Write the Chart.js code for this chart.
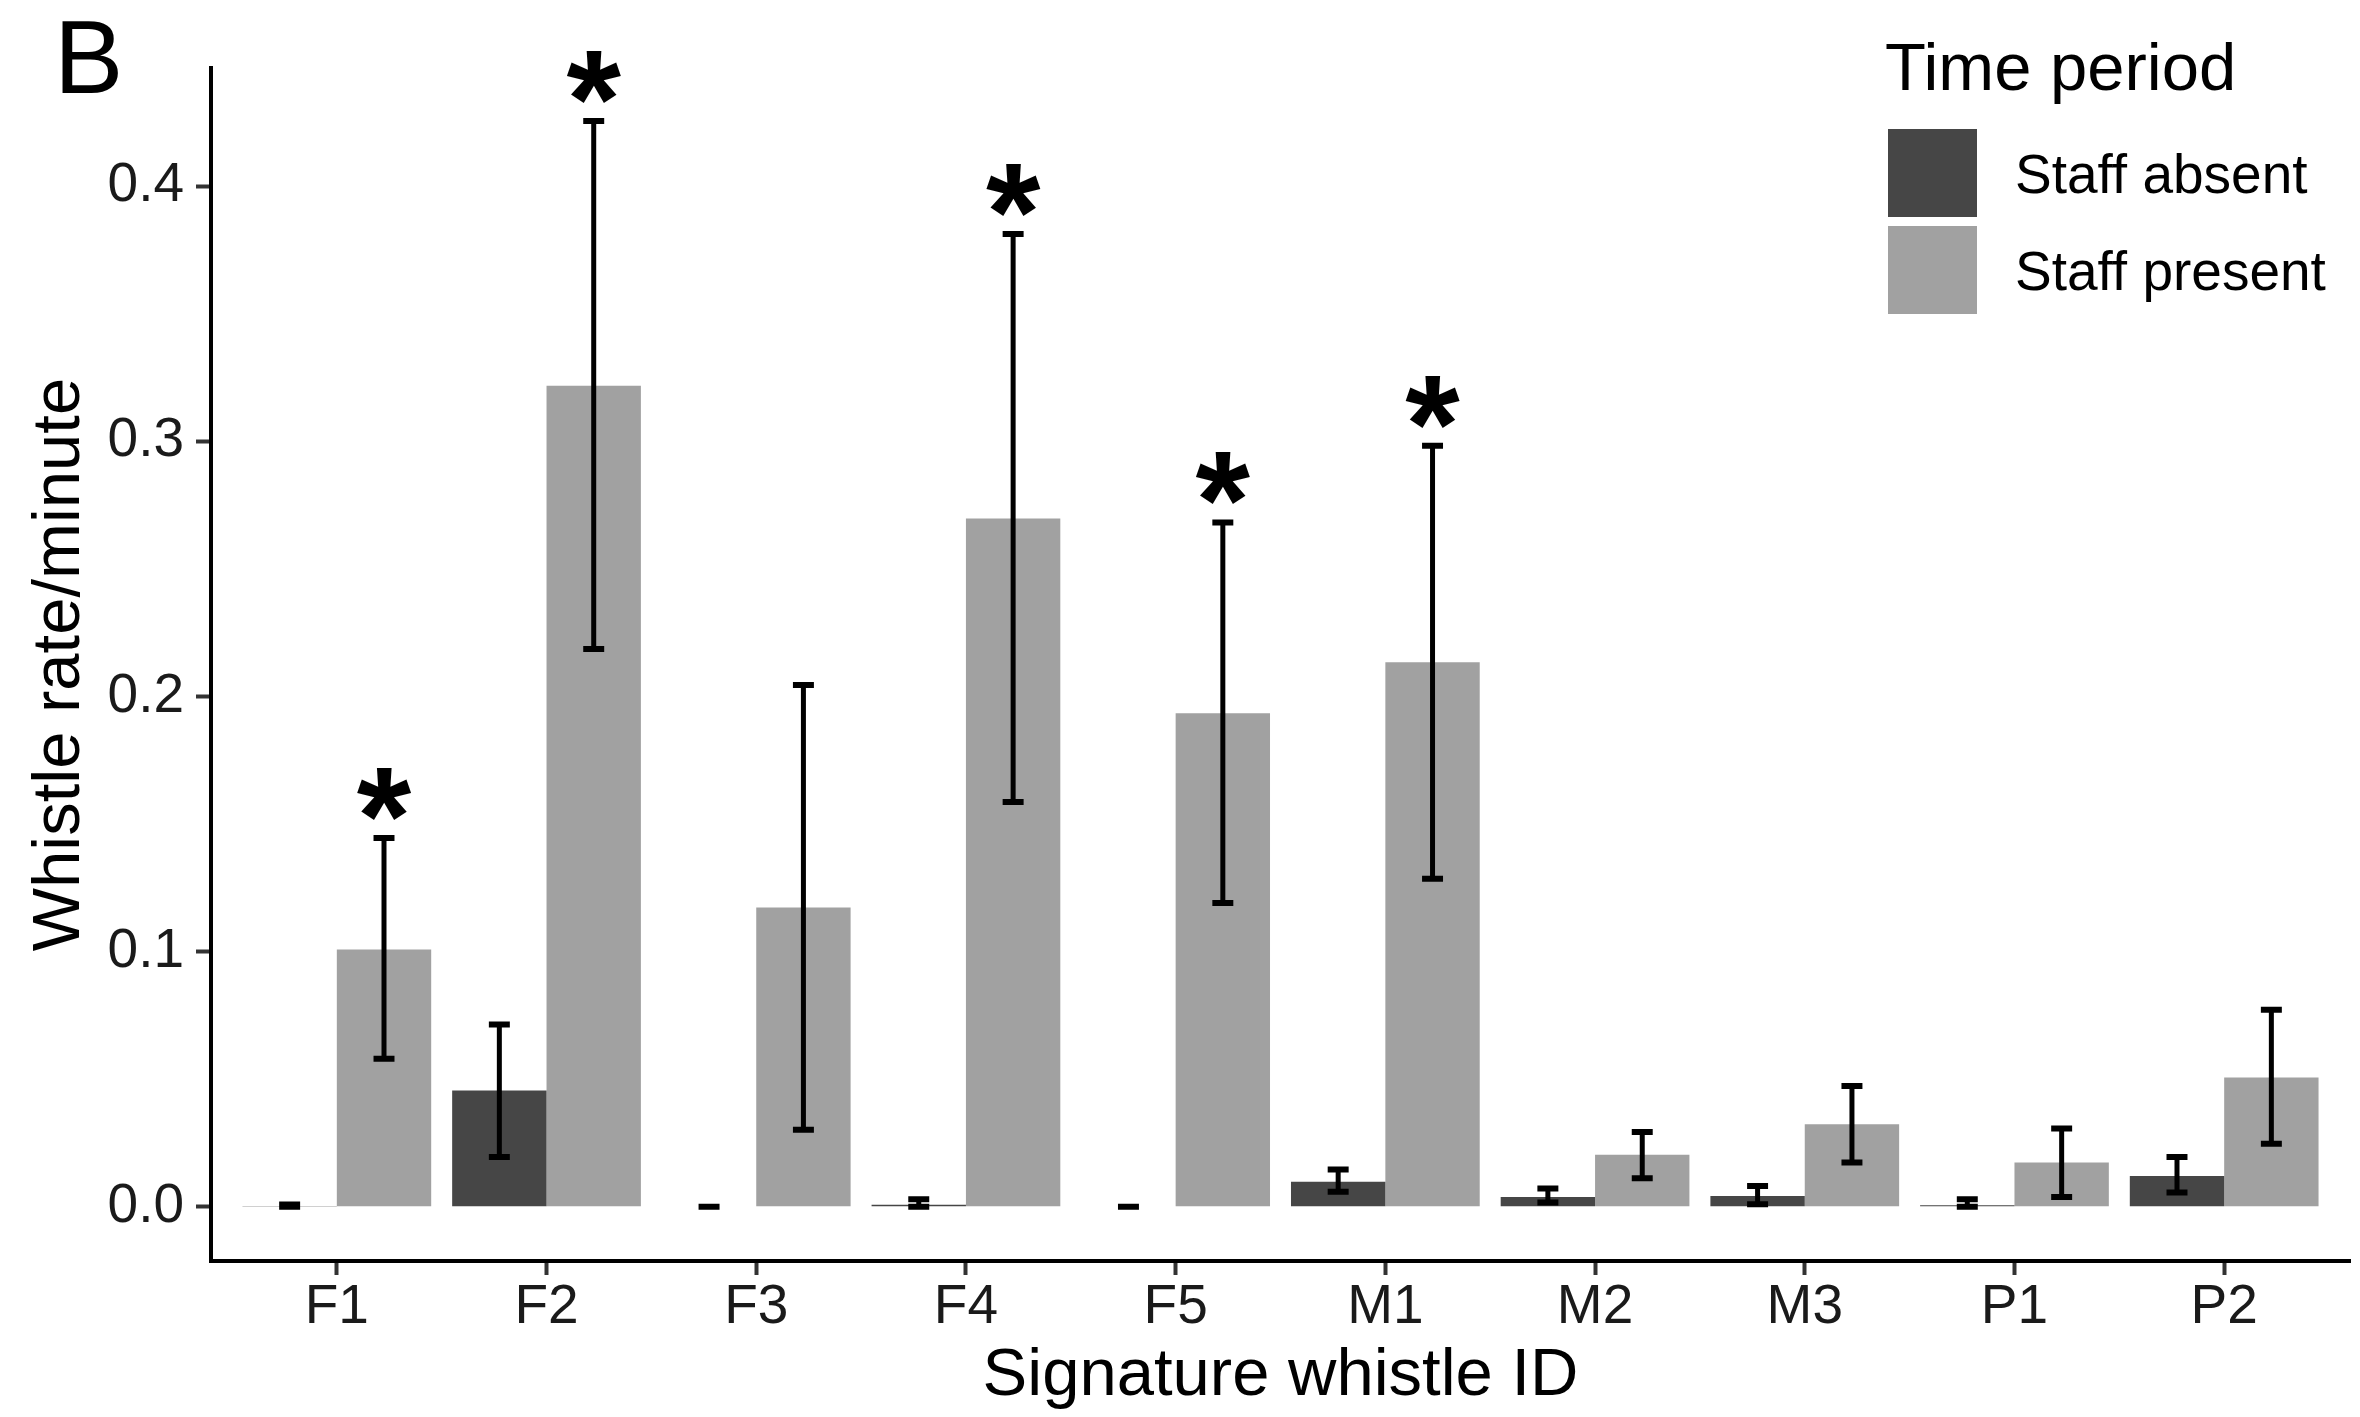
<!DOCTYPE html>
<html>
<head>
<meta charset="utf-8">
<title>Signature whistle rate</title>
<script src="https://cdn.jsdelivr.net/npm/chart.js@4.4.1/dist/chart.umd.min.js"></script>
<style>
  html, body { margin: 0; padding: 0; background: #fff; }
  canvas { display: block; }
</style>
</head>
<body>
<canvas id="grafico" width="2360" height="1417"></canvas>
<script>
// dados (taxa de assobios por minuto)
const categorias = ['F1', 'F2', 'F3', 'F4', 'F5', 'M1', 'M2', 'M3', 'P1', 'P2'];

const ausente = [0.0003, 0.0455, 0, 0.0007, 0, 0.0098, 0.0038, 0.0042, 0.0006, 0.0120];
const ausenteMin = [0, 0.0195, 0, 0, 0, 0.0058, 0.0016, 0.0009, 0, 0.0055];
const ausenteMax = [0.0008, 0.0714, 0, 0.0029, 0, 0.0146, 0.0071, 0.0081, 0.0029, 0.0195];

const presente = [0.1008, 0.3218, 0.1173, 0.2697, 0.1934, 0.2134, 0.0203, 0.0323, 0.0173, 0.0506];
const presenteMin = [0.0580, 0.2186, 0.0301, 0.1586, 0.1190, 0.1285, 0.0111, 0.0173, 0.0038, 0.0247];
const presenteMax = [0.1445, 0.4255, 0.2045, 0.3812, 0.2682, 0.2982, 0.0293, 0.0473, 0.0306, 0.0772];

const significativo = [true, true, false, true, true, true, false, false, false, false];

const ticksY = [0, 0.1, 0.2, 0.3, 0.4];

const FONTE = "'Liberation Sans', Arial, Helvetica, sans-serif";
Chart.defaults.font.family = FONTE;

function pontos(valores) {
  return valores.map((v, i) => ({ x: i, y: v }));
}

// barras de erro + asteriscos
const barrasErro = {
  id: 'barrasErro',
  afterDatasetsDraw(chart) {
    const { ctx, scales: { x, y } } = chart;
    const meiaTampa = x.getPixelForValue(0.05) - x.getPixelForValue(0);
    ctx.save();
    ctx.strokeStyle = '#000';
    chart.data.datasets.forEach((ds, i) => {
      const meta = chart.getDatasetMeta(i);
      meta.data.forEach((barra, j) => {
        const cx = barra.x;
        const y1 = y.getPixelForValue(ds.erroMin[j]);
        const y2 = y.getPixelForValue(ds.erroMax[j]);
        ctx.lineWidth = 5;
        ctx.beginPath();
        ctx.moveTo(cx, y1);
        ctx.lineTo(cx, y2);
        ctx.stroke();
        ctx.lineWidth = 6;
        ctx.beginPath();
        ctx.moveTo(cx - meiaTampa, y1);
        ctx.lineTo(cx + meiaTampa, y1);
        ctx.moveTo(cx - meiaTampa, y2);
        ctx.lineTo(cx + meiaTampa, y2);
        ctx.stroke();
      });
    });

    const meta = chart.getDatasetMeta(1);
    ctx.fillStyle = '#000';
    ctx.font = 'bold 140px ' + FONTE;
    ctx.textAlign = 'center';
    ctx.textBaseline = 'alphabetic';
    significativo.forEach((sig, j) => {
      if (!sig) return;
      const cx = meta.data[j].x;
      const topo = y.getPixelForValue(presenteMax[j]);
      ctx.fillText('*', cx, topo + 26);
    });
    ctx.restore();
  },
};

// legenda dentro da área, canto superior direito, e letra do painel
const legendaTempo = {
  id: 'legendaTempo',
  afterDraw(chart) {
    const ctx = chart.ctx;
    ctx.save();
    ctx.fillStyle = '#000';
    ctx.textAlign = 'left';
    ctx.textBaseline = 'alphabetic';
    ctx.font = '104px ' + FONTE;
    ctx.fillText('B', 54, 93);

    ctx.font = '67px ' + FONTE;
    ctx.fillText('Time period', 1885, 90);

    chart.data.datasets.forEach((ds, i) => {
      const topo = 129 + i * 97;
      ctx.fillStyle = ds.backgroundColor;
      ctx.fillRect(1888, topo, 89, 88);
      ctx.fillStyle = '#000';
      ctx.font = '55px ' + FONTE;
      ctx.textBaseline = 'middle';
      ctx.fillText(ds.label, 2015, topo + 49);
    });
    ctx.restore();
  },
};

new Chart(document.getElementById('grafico'), {
  type: 'bar',
  data: {
    datasets: [
      {
        label: 'Staff absent',
        data: pontos(ausente),
        erroMin: ausenteMin,
        erroMax: ausenteMax,
        backgroundColor: '#464646',
      },
      {
        label: 'Staff present',
        data: pontos(presente),
        erroMin: presenteMin,
        erroMax: presenteMax,
        backgroundColor: '#a1a1a1',
      },
    ],
  },
  options: {
    responsive: false,
    animation: false,
    devicePixelRatio: 1,
    categoryPercentage: 0.9,
    barPercentage: 1.0,
    layout: { padding: { top: 68, right: 10, left: 0, bottom: 0 } },
    plugins: {
      legend: { display: false },
      tooltip: { enabled: false },
    },
    scales: {
      x: {
        type: 'linear',
        min: -0.6,
        max: 9.6,
        offset: false,
        afterFit: (eixo) => { eixo.height = 156; },
        afterBuildTicks: (eixo) => {
          eixo.ticks = categorias.map((c, i) => ({ value: i }));
        },
        ticks: {
          stepSize: 1,
          autoSkip: false,
          maxRotation: 0,
          padding: 0,
          color: '#1a1a1a',
          font: { size: 55 },
          callback: (v) => categorias[v],
        },
        grid: {
          display: true,
          offset: false,
          drawOnChartArea: false,
          drawTicks: true,
          tickLength: 14,
          tickWidth: 4,
          tickColor: '#333',
        },
        border: { display: true, color: '#000', width: 4 },
        title: {
          display: true,
          text: 'Signature whistle ID',
          color: '#000',
          font: { size: 67 },
          padding: { top: 0, bottom: 0 },
        },
      },
      y: {
        min: -0.0213,
        max: 0.4463,
        afterFit: (eixo) => { eixo.width = 211; },
        afterBuildTicks: (eixo) => {
          eixo.ticks = ticksY.map((v) => ({ value: v }));
        },
        ticks: {
          padding: 12,
          color: '#1a1a1a',
          font: { size: 55 },
          callback: (v) => Number(v).toFixed(1),
        },
        grid: {
          display: true,
          drawOnChartArea: false,
          drawTicks: true,
          tickLength: 15,
          tickWidth: 4,
          tickColor: '#333',
        },
        border: { display: true, color: '#000', width: 4 },
        title: {
          display: true,
          text: 'Whistle rate/minute',
          color: '#000',
          font: { size: 67 },
          padding: { top: 20, bottom: 0 },
        },
      },
    },
  },
  plugins: [barrasErro, legendaTempo],
});
</script>
</body>
</html>
